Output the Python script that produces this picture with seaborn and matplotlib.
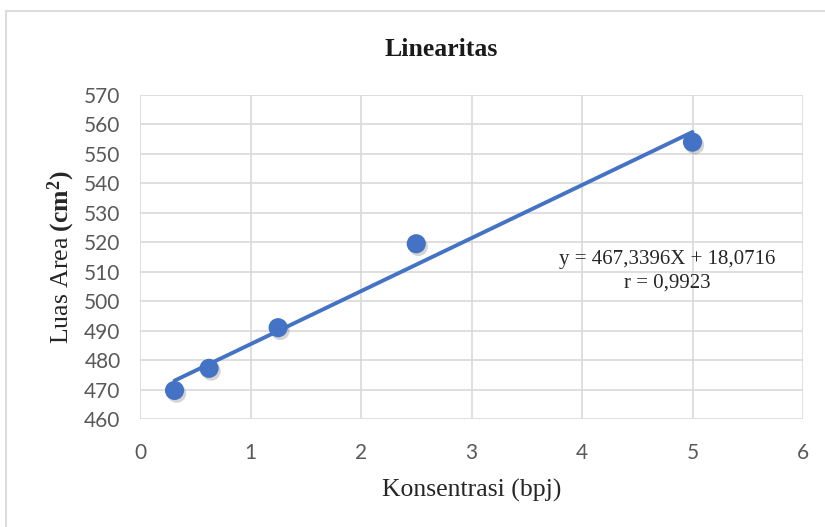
import matplotlib.pyplot as plt
import matplotlib.patches as patches
import matplotlib.patheffects as pe
import seaborn as sns
import pandas as pd

# konsentrasi (bpj) vs luas area (cm2)
konsentrasi = [0.3125, 0.625, 1.25, 2.5, 5.0]
luas_area = [469.7, 477.2, 491.0, 519.5, 554.0]
x_ticks = [0, 1, 2, 3, 4, 5, 6]
y_ticks = [460, 470, 480, 490, 500, 510, 520, 530, 540, 550, 560, 570]
persamaan = "y = 467,3396X + 18,0716"
korelasi = "r = 0,9923"

df = pd.DataFrame({"Konsentrasi": konsentrasi, "Luas": luas_area})

sns.set_style("white")
plt.rcParams["mathtext.fontset"] = "custom"
plt.rcParams["mathtext.rm"] = "Liberation Serif"
plt.rcParams["mathtext.bf"] = "Liberation Serif:bold"
blue = "#4472C4"
grid = "#D9D9D9"

fig = plt.figure(figsize=(8.25, 5.27), dpi=100)
ax = fig.add_axes([140 / 825, 1 - 419 / 527, 663 / 825, 324 / 527])

shadow = [pe.SimplePatchShadow(offset=(1.5, -2), shadow_rgbFace="0.45", alpha=0.3), pe.Normal()]
sns.regplot(data=df, x="Konsentrasi", y="Luas", ax=ax, ci=None,
            scatter_kws={"s": 190, "color": blue, "edgecolor": blue, "linewidths": 0,
                         "alpha": 1, "zorder": 4, "path_effects": shadow},
            line_kws={"color": blue, "linewidth": 2.8, "zorder": 3})

ax.set_xlim(0, 6)
ax.set_ylim(460, 570)
ax.set_xticks(x_ticks)
ax.set_yticks(y_ticks)
ax.grid(True, color=grid, linewidth=1.2)
ax.set_axisbelow(True)
for s in ax.spines.values():
    s.set_visible(False)
ax.tick_params(length=0, labelsize=15, labelcolor="#595959")
ax.tick_params(axis="x", pad=17)
ax.tick_params(axis="y", pad=14)
for lab in ax.get_xticklabels() + ax.get_yticklabels():
    lab.set_family("Lato")

ax.set_xlabel("Konsentrasi (bpj)", family="Liberation Serif", fontsize=18.5, labelpad=12)
ax.set_ylabel(r"Luas Area $\mathbf{(cm^2)}$", family="Liberation Serif", fontsize=18.5, labelpad=5)

ax.text(4.77, 514, persamaan, ha="center", va="center", family="Liberation Serif", fontsize=15)
ax.text(4.77, 506.2, korelasi, ha="center", va="center", family="Liberation Serif", fontsize=15)

fig.text(441 / 825, 1 - 50 / 527, "Linearitas", ha="center", va="center",
         family="Liberation Serif", fontsize=18.5, fontweight="bold", color="#1a1a1a")

border = patches.Rectangle((6 / 825, -0.1), 1.2, 1 - 11 / 527 + 0.1, transform=fig.transFigure,
                           fill=False, edgecolor=grid, linewidth=1.3)
fig.patches.append(border)

fig.savefig("out.png", dpi=100)
